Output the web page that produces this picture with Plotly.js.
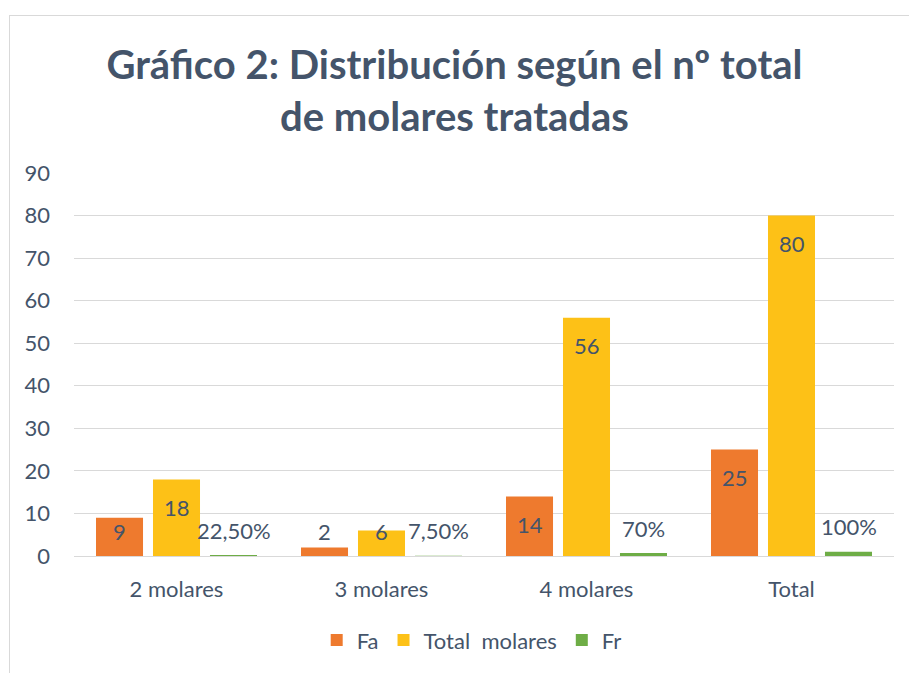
<!DOCTYPE html>
<html>
<head>
<meta charset="utf-8">
<script src="https://cdn.plot.ly/plotly-3.0.1.min.js"></script>
<style>
  html, body { margin: 0; padding: 0; background: #ffffff; }
  #wrap { position: relative; width: 909px; height: 673px; overflow: hidden; }
  #chart { width: 909px; height: 673px; }
  #frame { position: absolute; left: 9px; top: 15px; width: 920px; height: 700px;
           border: 1px solid #D9D9D9; pointer-events: none; }
</style>
</head>
<body>
<div id="wrap">
  <div id="chart"></div>
  <div id="frame"></div>
</div>
<script>
// ---- data ----
const categories = ["2 molares", "3 molares", "4 molares", "Total"];
const faValues = [9, 2, 14, 25];
const totalMolares = [18, 6, 56, 80];
const frValues = [0.225, 0.075, 0.70, 1.00];
const frLabels = ["22,50%", "7,50%", "70%", "100%"];
const yTicks = [0, 10, 20, 30, 40, 50, 60, 70, 80, 90];
const seriesNames = ["Fa", "Total  molares", "Fr"];

const textColor = "#44546A";
const font = "Lato, 'Open Sans', sans-serif";
const fs = 22;

const traces = [
  { type: "bar", name: seriesNames[0], x: categories, y: faValues,
    marker: { color: "#EE7A2E" }, hoverinfo: "x+y" },
  { type: "bar", name: seriesNames[1], x: categories, y: totalMolares,
    marker: { color: "#FDC117" }, hoverinfo: "x+y" },
  { type: "bar", name: seriesNames[2], x: categories, y: frValues,
    marker: { color: "#6EAD46" }, hoverinfo: "x+y" }
];

// plot geometry
const plotTop = 173, plotBottom = 115, H = 673;
const plotH = H - plotTop - plotBottom;
const yMax = 90;
const ppu = plotH / yMax;
const slotPx = 57;

const annotations = [];
const labelSets = [
  faValues.map(v => String(v)),
  totalMolares.map(v => String(v)),
  frLabels
];
const valueSets = [faValues, totalMolares, frValues];
for (let s = 0; s < 3; s++) {
  for (let j = 0; j < categories.length; j++) {
    const v = valueSets[s][j];
    let shift;
    if (s < 2) {
      shift = Math.max(-28, 25 - v * ppu);   // inside end, clamped near base
    } else {
      shift = 25;                             // outside end
    }
    annotations.push({
      x: categories[j], y: v, xref: "x", yref: "y",
      xshift: (s - 1) * slotPx, yshift: shift,
      yanchor: "middle", xanchor: "center",
      text: labelSets[s][j], showarrow: false,
      font: { family: font, size: fs, color: textColor }
    });
  }
}

const layout = {
  width: 909, height: 673,
  margin: { l: 74, r: 15, t: plotTop, b: plotBottom, pad: 0 },
  paper_bgcolor: "#ffffff", plot_bgcolor: "#ffffff",
  font: { family: font, color: textColor, size: fs },
  title: {
    text: "<b>Gráfico 2: Distribución según el nº total<br>de molares tratadas</b>",
    font: { family: font, size: 40, color: textColor },
    x: 0.5, xanchor: "center", y: 0.882, yanchor: "middle", yref: "container"
  },
  barmode: "group",
  bargap: 0.166,
  bargroupgap: 0.175,
  xaxis: {
    type: "category", tickfont: { size: fs, color: textColor },
    showgrid: false, showline: false, ticks: "", ticklen: 0,
    ticklabelstandoff: 18, automargin: false
  },
  yaxis: {
    range: [0, yMax], tickvals: yTicks, ticktext: yTicks.map(String),
    showgrid: true, gridcolor: "#D9D9D9", gridwidth: 1,
    zeroline: true, zerolinecolor: "#D9D9D9", zerolinewidth: 1,
    showline: false, ticks: "", ticklabelstandoff: 23,
    tickfont: { size: fs, color: textColor }, automargin: false
  },
  showlegend: true,
  legend: {
    orientation: "h", x: 0.485, xanchor: "center", y: -0.22, yanchor: "middle",
    font: { size: fs, color: textColor }, traceorder: "normal",
    itemwidth: 30
  },
  annotations: annotations
};

Plotly.newPlot("chart", traces, layout, { displayModeBar: false, staticPlot: true });
</script>
</body>
</html>
